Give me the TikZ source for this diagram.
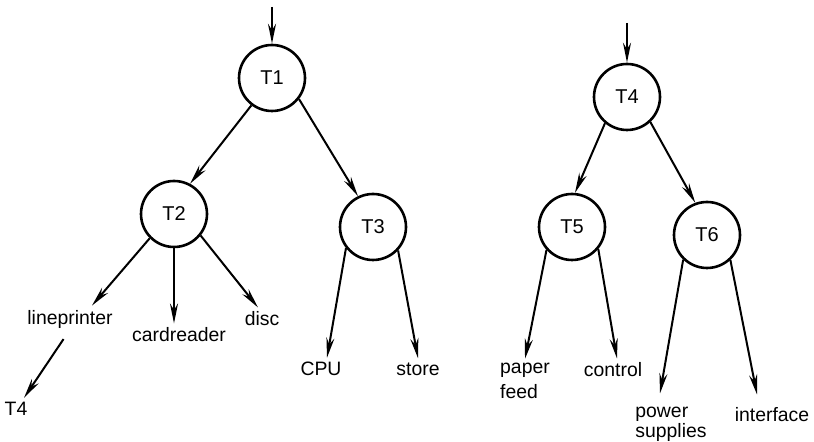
\documentclass[tikz,border=0pt]{standalone}
\usepackage{fontspec}
\setmainfont{Liberation Sans}
\usepackage{tikz}
\usetikzlibrary{arrows.meta,positioning}
\tikzstyle{task} = [circle, draw, line width=1.3pt, minimum size=33pt, inner sep=0pt, font=\fontsize{10}{11}\selectfont]
\tikzstyle{item} = [inner sep=2pt, font=\fontsize{9.7}{11}\selectfont]
\tikzstyle{arrow} = [line width=1pt, -{Stealth[length=10pt,width=4pt]}]

\begin{document}
\begin{tikzpicture}[x=0.5pt, y=-0.5pt]
    \useasboundingbox (0,0) rectangle (814,442);

    % Tree of T1
    \coordinate (in1) at (272,7);
    \node[task] (T1) at (272,78) {T1};
    \node[task] (T2) at (174,214) {T2};
    \node[task] (T3) at (373,227) {T3};
    \node[item] (lineprinter) at (70,319) {lineprinter};
    \node[item] (cardreader) at (179,335) {cardreader};
    \node[item] (disc) at (262,319) {disc};
    \node[item] (cpu) at (321,369) {CPU};
    \node[item] (store) at (418,369) {store};
    \node[item] (next) at (16,409) {T4};

    \draw[arrow] (in1) -- (T1);
    \draw[arrow] (T1.233) -- (T2.62);
    \draw[arrow] (T1.-38) -- (T3.116);
    \draw[arrow] (T2.225) -- ([xshift=11pt]lineprinter.north);
    \draw[arrow] (T2.south) -- (cardreader.north -| T2.south);
    \draw[arrow] (T2.-39) -- ([xshift=-2pt]disc.north);
    \draw[arrow] (T3.218) -- ([xshift=3pt]cpu.north);
    \draw[arrow] (T3.-43) -- (store.north);
    \draw[arrow, shorten <=4pt] ([xshift=-1pt]lineprinter.south) -- ([xshift=4pt]next.north);

    % Tree of T4
    \coordinate (in4) at (627,23);
    \node[task] (T4) at (627,97) {T4};
    \node[task] (T5) at (572,227) {T5};
    \node[task] (T6) at (707,235) {T6};
    \node[item, align=left, font=\fontsize{9.7}{12.5}\selectfont] (paperfeed) at (525,381) {paper\\feed};
    \node[item] (control) at (613,370) {control};
    \node[item, align=left, font=\fontsize{9.7}{10}\selectfont] (power) at (671,424) {power\\supplies};
    \node[item] (interface) at (772,415) {interface};

    \draw[arrow] (in4) -- (T4);
    \draw[arrow] (T4.230) -- (T5.85);
    \draw[arrow] (T4.-47) -- (T6.110);
    \draw[arrow] (T5.222) -- (paperfeed.north);
    \draw[arrow] (T5.-40) -- ([xshift=2pt]control.north);
    \draw[arrow] (T6.226) -- ([xshift=-5.5pt,yshift=4.5pt]power.north);
    \draw[arrow] (T6.-47) -- ([xshift=-7.5pt,yshift=4.5pt]interface.north);
\end{tikzpicture}
\end{document}
